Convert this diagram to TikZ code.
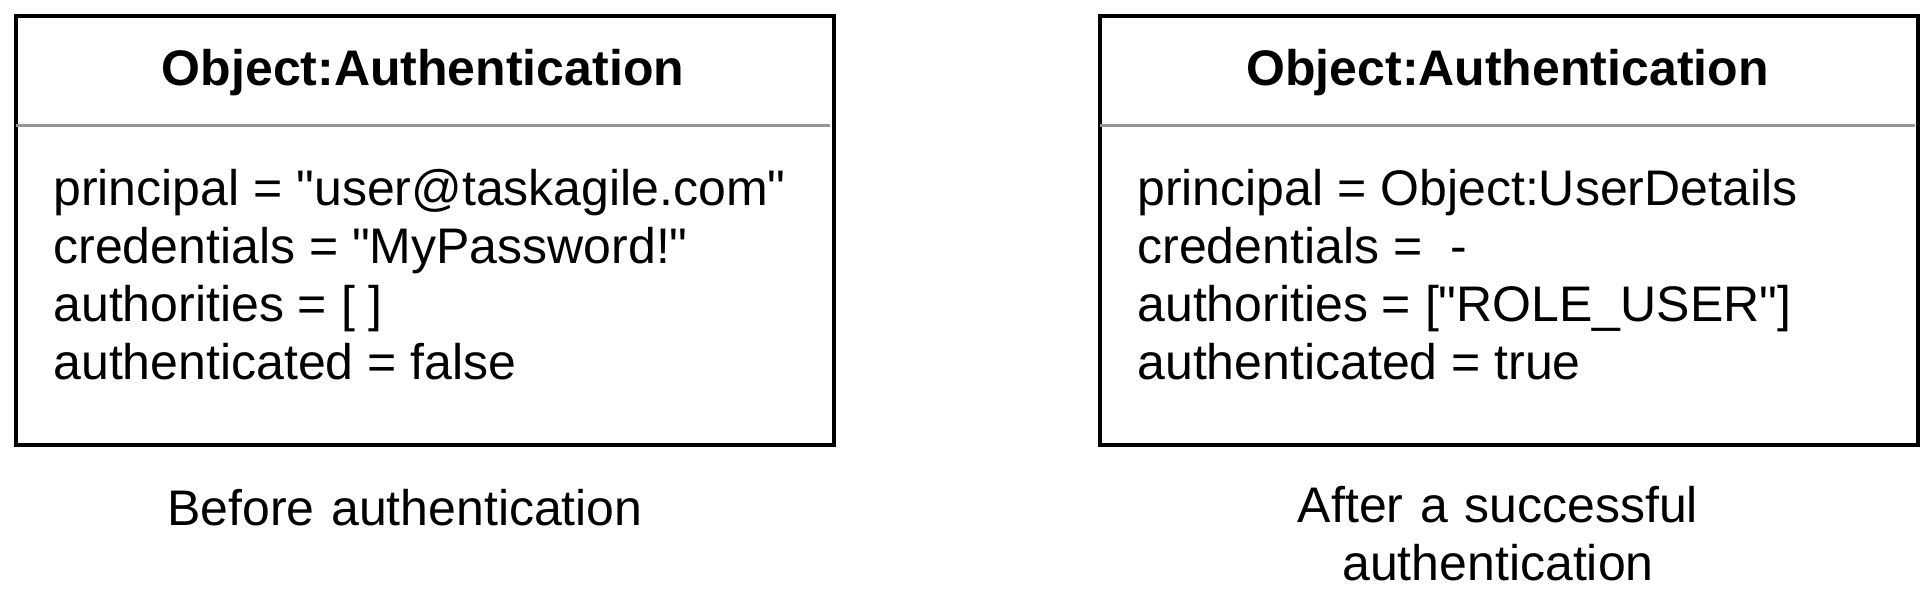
\documentclass[tikz,border=0pt]{standalone}
\usepackage{fontspec}
\setmainfont{Liberation Sans}[Ligatures=TeXOff]
\definecolor{sepgray}{RGB}{150,150,150}
\begin{document}
\begin{tikzpicture}[x=0.5pt,y=-0.5pt,
  objbox/.style={draw=black, line width=2pt, fill=white, inner sep=0pt,
    minimum width=409pt, minimum height=214.5pt, anchor=north west},
  sepline/.style={draw=sepgray, line width=1.5pt},
  headtext/.style={font=\fontsize{25}{30}\selectfont\bfseries, anchor=base, inner sep=0pt},
  attrtext/.style={font=\fontsize{25}{30}\selectfont, anchor=base west, inner sep=0pt},
  captext/.style={font=\fontsize{25}{29}\selectfont, anchor=base, inner sep=0pt, align=center, text width=260pt}
]
\useasboundingbox (0,0) rectangle (1932,600);
% left object
\node[objbox] (lbox) at (14,14) {};
\draw[sepline] (16,125) -- (830,125);
\node[headtext] (lhead) at (423,85) {Object:Authentication};
\node[attrtext] (l1) at (53,205) {principal = "user@taskagile.com"};
\node[attrtext] (l2) at (53,263) {credentials = "MyPassword!"};
\node[attrtext] (l3) at (53,321) {authorities = [ ]};
\node[attrtext] (l4) at (53,379) {authenticated = false};
\node[captext] (lcap) at (405,525) {Before authentication};
% right object
\node[objbox] (rbox) at (1098,14) {};
\draw[sepline] (1100,125) -- (1915,125);
\node[headtext] (rhead) at (1507.5,85) {Object:Authentication};
\node[attrtext] (r1) at (1137,205) {principal = Object:UserDetails};
\node[attrtext] (r2) at (1137,263) {credentials =\ \ -};
\node[attrtext] (r3) at (1137,321) {authorities = ["ROLE\_USER"]};
\node[attrtext] (r4) at (1137,379) {authenticated = true};
\node[captext] (rcap) at (1498,522) {After a successful\\authentication};
\end{tikzpicture}
\end{document}
